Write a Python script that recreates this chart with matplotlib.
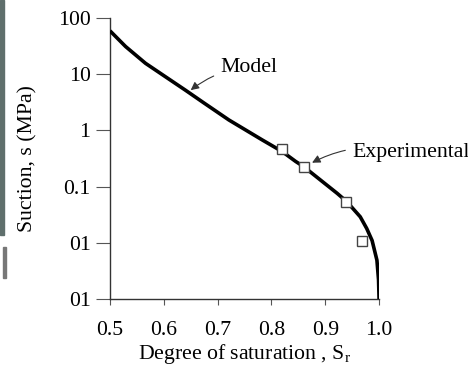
import matplotlib
matplotlib.use("Agg")
import matplotlib.pyplot as plt
from matplotlib.patches import Rectangle

# model curve
sr_model = [0.50, 0.529, 0.566, 0.603, 0.640, 0.674, 0.721, 0.783, 0.82,
            0.845, 0.86, 0.891, 0.922, 0.94, 0.965, 0.977, 0.987, 0.996,
            0.999, 1.0]
s_model = [59, 31, 15.6, 9.0, 5.2, 3.1, 1.53, 0.675, 0.42,
           0.28, 0.226, 0.131, 0.076, 0.054, 0.029, 0.018, 0.011, 0.0049,
           0.0022, 0.001]

# experimental points
sr_exp = [0.82, 0.86, 0.939, 0.969]
s_exp = [0.46, 0.226, 0.053, 0.0107]

x_ticks = [0.5, 0.6, 0.7, 0.8, 0.9, 1.0]
x_labels = ['0.5', '0.6', '0.7', '0.8', '0.9', '1.0']
y_ticks = [100, 10, 1, 0.1, 0.01, 0.001]
y_labels = ['100', '10', '1', '0.1', '01', '01']

plt.rcParams['font.family'] = ['Liberation Serif', 'DejaVu Serif']
plt.rcParams['mathtext.fontset'] = 'stix'
fs = 15.7

fig = plt.figure(figsize=(4.68, 3.66), dpi=100)
ax = fig.add_axes([0.235, 0.183, 0.575, 0.768])

ax.plot(sr_model, s_model, color='black', linewidth=2.6, zorder=3,
        solid_capstyle='butt', solid_joinstyle='round')
ax.plot(sr_exp, s_exp, linestyle='none', marker='s', markersize=6.5,
        markerfacecolor='white', markeredgecolor='#444444',
        markeredgewidth=1.0, zorder=4)

ax.set_yscale('log')
ax.set_xlim(0.5, 1.0)
ax.set_ylim(0.001, 100)
ax.set_xticks(x_ticks)
ax.set_xticklabels(x_labels)
ax.set_yticks(y_ticks)
ax.set_yticklabels(y_labels)
ax.minorticks_off()

for side in ['top', 'right']:
    ax.spines[side].set_visible(False)
for side in ['left', 'bottom']:
    ax.spines[side].set_color('#333333')
    ax.spines[side].set_linewidth(1.0)

ax.tick_params(axis='y', direction='out', length=10, width=0.8,
               color='#555555', labelsize=fs, pad=4)
ax.tick_params(axis='x', direction='out', length=4, width=0.8,
               color='#555555', labelsize=fs, pad=12)

ax.set_xlabel('Degree of saturation , S$_\\mathregular{r}$', fontsize=fs,
              labelpad=1)
ax.set_ylabel('Suction, s (MPa)', fontsize=fs)
ax.yaxis.set_label_coords(-0.27, 0.5)

ax.annotate('Model', xy=(0.650, 5.2), xytext=(0.705, 13.4),
            fontsize=fs, va='center', ha='left',
            arrowprops=dict(arrowstyle='-|>', color='#333333', lw=0.8,
                            mutation_scale=12,
                            connectionstyle='arc3,rad=0.15',
                            shrinkA=3, shrinkB=0))
ax.annotate('Experimental', xy=(0.8755, 0.266), xytext=(0.950, 0.40),
            fontsize=fs, va='center', ha='left', annotation_clip=False,
            arrowprops=dict(arrowstyle='-|>', color='#333333', lw=0.8,
                            mutation_scale=12,
                            connectionstyle='arc3,rad=0.2',
                            shrinkA=3, shrinkB=0))

# stray fragments at the left edge of the scanned picture
fig.patches.append(Rectangle((0, 1 - 235 / 366), 4 / 468, 235 / 366,
                             transform=fig.transFigure, color='#5f6f6c',
                             zorder=0))
fig.patches.append(Rectangle((3 / 468, 1 - 278 / 366), 3 / 468, 31 / 366,
                             transform=fig.transFigure, color='#777777',
                             zorder=0))

fig.savefig('out.png', dpi=100)
